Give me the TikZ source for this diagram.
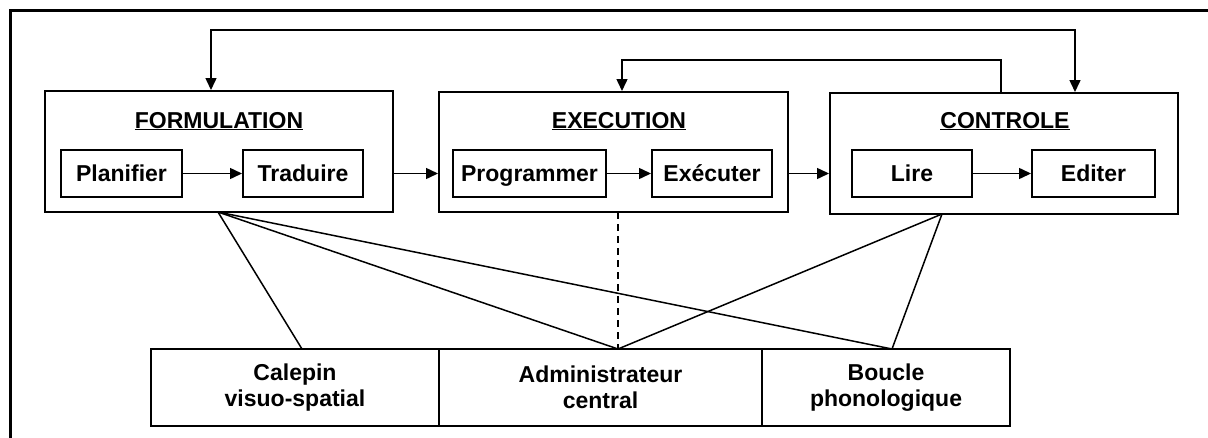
\documentclass[tikz,border=0pt]{standalone}
\usepackage{fontspec}
\setmainfont{Liberation Sans}
\usetikzlibrary{arrows.meta,calc}
\begin{document}
\begin{tikzpicture}[x=1pt,y=-1pt,
  every node/.style={font=\fontsize{23}{26}\selectfont\bfseries},
  bigbox/.style={draw,line width=2pt,inner sep=0pt,minimum height=121pt,minimum width=348pt},
  smallbox/.style={draw,line width=2pt,inner sep=0pt,minimum height=47pt,minimum width=120pt,text height=16.5pt,text depth=0pt},
  membox/.style={draw,line width=2pt,inner sep=0pt,minimum height=77pt,align=center},
  title/.style={anchor=base,inner sep=0pt},
  conn/.style={line width=1.5pt},
  arr/.style={line width=1.5pt,-{Triangle[length=12pt,width=11pt]}},
  dbl/.style={line width=1.5pt,{Triangle[length=12pt,width=11pt]}-{Triangle[length=12pt,width=11pt]}}]
\useasboundingbox (0,0) rectangle (1208,437);
\fill[white] (0,0) rectangle (1208,437);
% outer frame
\draw[line width=3pt] (10,440) -- (10,10) -- (1210,10);

% main boxes
\node[bigbox] (F) at (219,151.5) {};
\node[bigbox,minimum height=120pt,minimum width=349pt] (E) at (613.5,152) {};
\node[bigbox] (C) at (1004,153.5) {};

\node[title] (Ft) at (219,128) {\underline{FORMULATION}};
\node[title] (Et) at (619,128) {\underline{EXECUTION}};
\node[title] (Ct) at (1005,128) {\underline{CONTROLE}};

% inner boxes
\node[smallbox,minimum width=121pt] (P) at (121.5,173.5) {Planifier};
\node[smallbox] (T) at (303,173.5) {Traduire};
\node[smallbox,minimum width=153pt] (Pr) at (529.5,173.5) {Programmer};
\node[smallbox] (Ex) at (712,173.5) {Exécuter};
\node[smallbox] (L) at (912,173.5) {Lire};
\node[smallbox,minimum width=123pt] (Ed) at (1093.5,173.5) {Editer};

% memory boxes
\node[membox,minimum width=288pt] (cal) at (295,387.5) {Calepin\\visuo-spatial};
\node[membox,minimum width=323pt] (adm) at (600.5,387.5) {Administrateur\\central};
\node[membox,minimum width=248pt] (bou) at (886,387.5) {Boucle\\phonologique};

% inner arrows
\draw[arr] (P) -- (T);
\draw[arr] (Pr) -- (Ex);
\draw[arr] (L) -- (Ed);

% arrows between stages
\draw[arr] (F.east |- T.east) -- (E.west |- T.east);
\draw[arr] (E.east |- Ex.east) -- (C.west |- Ex.east);

% feedback arrows
\coordinate (ftop) at (211,30);
\coordinate (ctop) at (1075,30);
\draw[dbl] (ftop |- F.north) -- (ftop) -- (ctop) -- (ctop |- C.north);
\coordinate (etop) at (622,60);
\coordinate (cup) at (1001,60);
\draw[arr] (cup |- C.north) -- (cup) -- (etop) -- (etop |- E.north);

% links to memory
\coordinate (fb) at (218,212);
\coordinate (cb) at (942,214);
\coordinate (eb) at (618,212);
\coordinate (calT) at (302,349);
\coordinate (admT) at (618,349);
\coordinate (bouT) at (892,349);
\draw[conn] (fb) -- (calT);
\draw[conn] (fb) -- (admT);
\draw[conn] (fb) -- (bouT);
\draw[conn] (cb) -- (admT);
\draw[conn] (cb) -- (bouT);
\draw[conn,dashed,dash pattern=on 7pt off 5pt] (eb) -- (admT);
\end{tikzpicture}
\end{document}
